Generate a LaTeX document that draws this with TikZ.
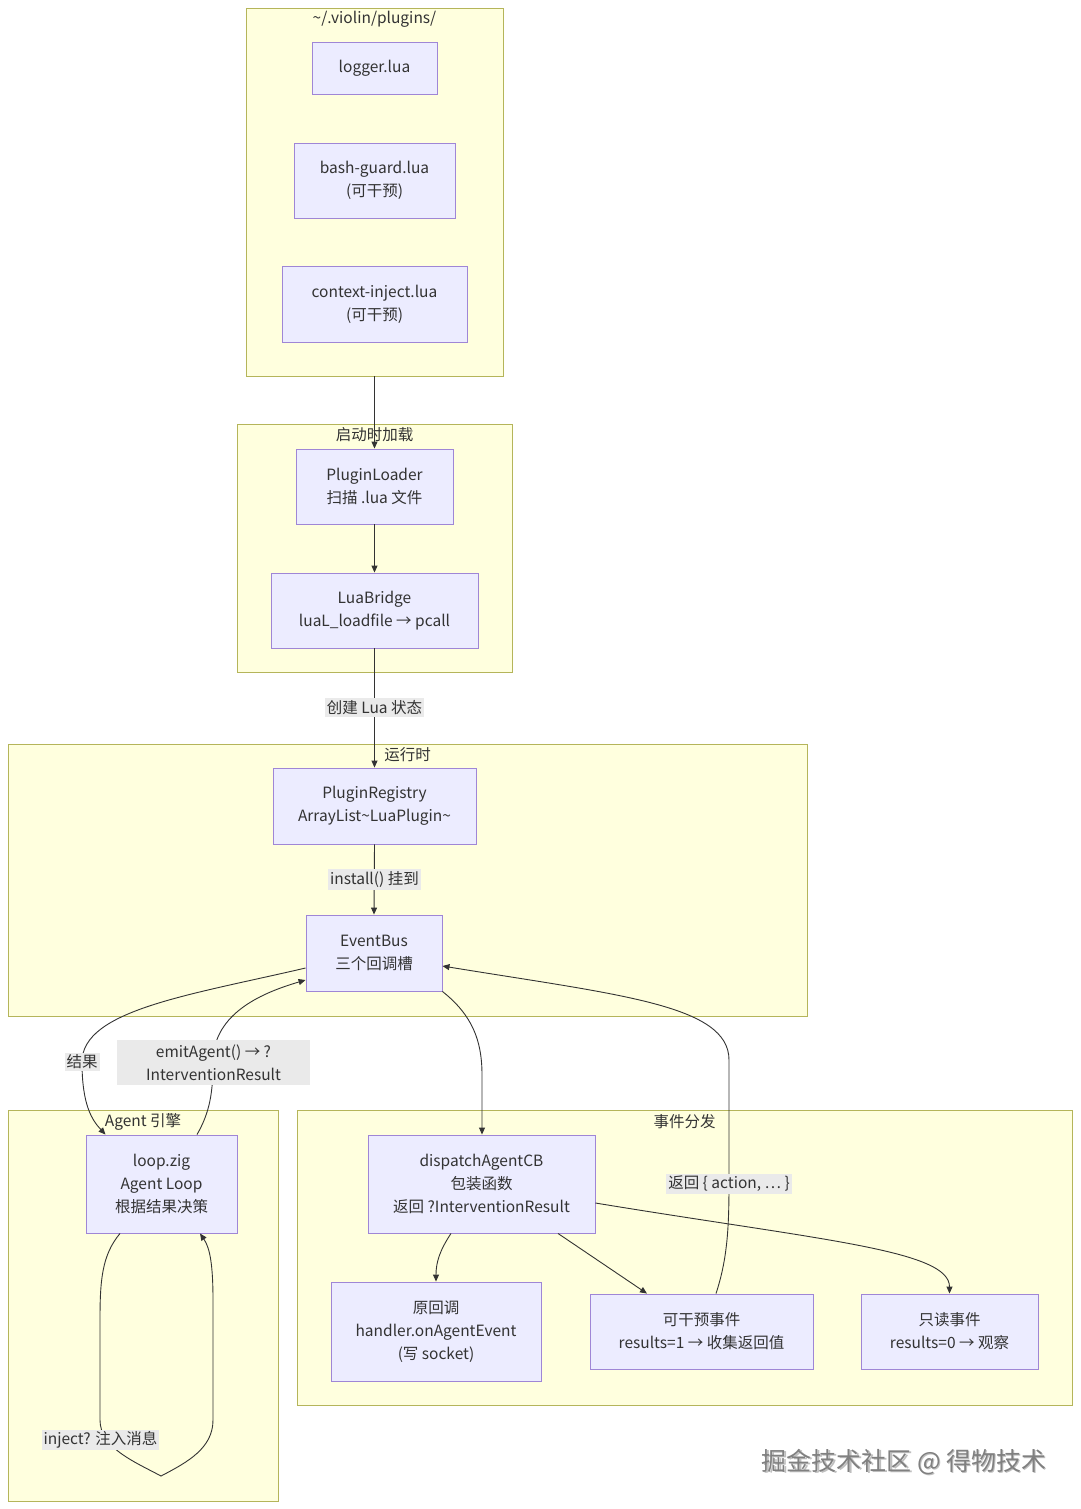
\documentclass[tikz,border=0pt]{standalone}
\usepackage{fontspec}
\setmainfont{Noto Sans CJK SC}
\usetikzlibrary{arrows.meta}
\definecolor{clfill}{HTML}{FFFFDE}
\definecolor{cldraw}{HTML}{B5B55A}
\definecolor{nfill}{HTML}{ECECFF}
\definecolor{ndraw}{HTML}{9F86D6}
\definecolor{ink}{HTML}{333333}
\definecolor{lblbg}{HTML}{EAEAEA}
\tikzset{
  cluster/.style={draw=cldraw, fill=clfill, line width=0.9pt, inner sep=0pt},
  cltitle/.style={text=ink, font=\fontsize{15.5}{18}\selectfont, inner sep=1pt},
  box/.style={draw=ndraw, fill=nfill, line width=0.9pt, text=ink, align=center,
    inner sep=0pt, font=\fontsize{15.5}{23}\selectfont},
  edge/.style={draw=ink, line width=0.9pt, -{Triangle[length=7pt,width=6pt]}},
  elabel/.style={fill=lblbg, text=ink, align=center, inner sep=2pt,
    font=\fontsize{15.5}{23}\selectfont},
}
\begin{document}
\begin{tikzpicture}[x=1pt,y=-1pt]
\useasboundingbox (0,0) rectangle (1080,1509);
\fill[white] (0,0) rectangle (1080,1509);

% clusters
\node[cluster, minimum width=257pt, minimum height=368pt] (c1) at (374.5,192) {};
\node[cluster, minimum width=275pt, minimum height=248pt] (c2) at (374.5,548) {};
\node[cluster, minimum width=799pt, minimum height=272pt] (c3) at (407.5,880) {};
\node[cluster, minimum width=270pt, minimum height=391pt] (c4) at (143,1305.5) {};
\node[cluster, minimum width=775pt, minimum height=295pt] (c5) at (684.5,1257.5) {};

\node[cltitle] (t1) at (374.5,19) {\textasciitilde/.violin/plugins/};
\node[cltitle] (t2) at (374.5,435) {启动时加载};
\node[cltitle] (t3) at (407.5,755) {运行时};
\node[cltitle] (t4) at (143,1122) {Agent 引擎};
\node[cltitle] (t5) at (684.5,1122) {事件分发};

% nodes
\node[box, minimum width=125pt, minimum height=52pt] (logger) at (374.5,68) {logger.lua};
\node[box, minimum width=161pt, minimum height=75pt] (bash) at (374.5,180.5) {bash-guard.lua\\(可干预)};
\node[box, minimum width=185pt, minimum height=76pt] (ctx) at (374.5,304) {context-inject.lua\\(可干预)};
\node[box, minimum width=157pt, minimum height=75pt] (loader) at (374.5,486.5) {PluginLoader\\扫描 .lua 文件};
\node[box, minimum width=207pt, minimum height=75pt] (bridge) at (374.5,610.5) {LuaBridge\\luaL\_loadfile → pcall};
\node[box, minimum width=203pt, minimum height=76pt] (registry) at (374.5,806) {PluginRegistry\\ArrayList\textasciitilde LuaPlugin\textasciitilde};
\node[box, minimum width=136pt, minimum height=76pt] (bus) at (374,953) {EventBus\\三个回调槽};
\node[box, minimum width=151pt, minimum height=98pt] (loop) at (161.5,1184) {loop.zig\\Agent Loop\\根据结果决策};
\node[box, minimum width=227pt, minimum height=98pt] (dispatch) at (481.5,1184) {dispatchAgentCB\\包装函数\\返回 ?InterventionResult};
\node[box, minimum width=210pt, minimum height=99pt] (orig) at (436,1331.5) {原回调\\handler.onAgentEvent\\(写 socket)};
\node[box, minimum width=223pt, minimum height=75pt] (interv) at (701.5,1331.5) {可干预事件\\results=1 → 收集返回值};
\node[box, minimum width=177pt, minimum height=75pt] (ro) at (949.5,1331.5) {只读事件\\results=0 → 观察};

% edges
\draw[edge] (c1.south) -- (loader.north);
\draw[edge] (loader.south) -- (bridge.north);
\draw[edge] (bridge.south) -- (registry.north);
\draw[edge] (registry.south) -- (bus.north);
\draw[edge] (bus.south east) .. controls (472,1015) and (482,1040) .. (482,1075) -- ([xshift=0.5pt]dispatch.north);
\draw[edge] ([yshift=-15pt]bus.west) .. controls (190,995) and (82,1010) .. (82,1062)
  .. controls (82,1105) and (92,1120) .. ([xshift=-56pt]loop.north);
\draw[edge] ([xshift=35.5pt]loop.north) .. controls (210,1112) and (213,1092) .. (213,1062)
  .. controls (213,1012) and (265,992) .. ([yshift=-27pt]bus.west);
\draw[edge] ([xshift=14.5pt]interv.north) .. controls (727,1260) and (729,1230) .. (729,1184)
  -- (729,1060) .. controls (729,1005) and (620,995) .. ([yshift=-13pt]bus.east);
\draw[edge] ([xshift=-30.5pt]dispatch.south) .. controls (440,1250) and (436,1262) .. (orig.north);
\draw[edge] ([xshift=76.5pt]dispatch.south) -- ([xshift=-54.5pt]interv.north);
\draw[edge] ([yshift=-19pt]dispatch.east) .. controls (820,1240) and (949.5,1250) .. (ro.north);
\draw[edge] ([xshift=-41.5pt]loop.south) .. controls (102,1255) and (100,1280) .. (100,1320)
  -- (100,1420) .. controls (100,1448) and (135,1462) .. (161,1476)
  .. controls (188,1462) and (213,1448) .. (213,1420) -- (213,1300)
  .. controls (213,1265) and (210,1248) .. ([xshift=38.5pt]loop.south);

% edge labels
\node[elabel] (l1) at (374.5,707.5) {创建 Lua 状态};
\node[elabel] (l2) at (374.5,879.5) {install() 挂到};
\node[elabel] (l3) at (82,1062) {结果};
\node[elabel, minimum width=193pt, minimum height=45pt] (l4) at (213.5,1062.5) {emitAgent() → ?\\InterventionResult};
\node[elabel] (l5) at (729,1184) {返回 \{ action, … \}};
\node[elabel] (l6) at (100.5,1440) {inject? 注入消息};

% watermark
\node[text=black!25, font=\fontsize{25}{28}\selectfont] (wm2) at (905.5,1463.5) {掘金技术社区 @ 得物技术};
\node[text=black!50, font=\fontsize{25}{28}\selectfont] (wm) at (904,1462) {掘金技术社区 @ 得物技术};
\end{tikzpicture}
\end{document}
